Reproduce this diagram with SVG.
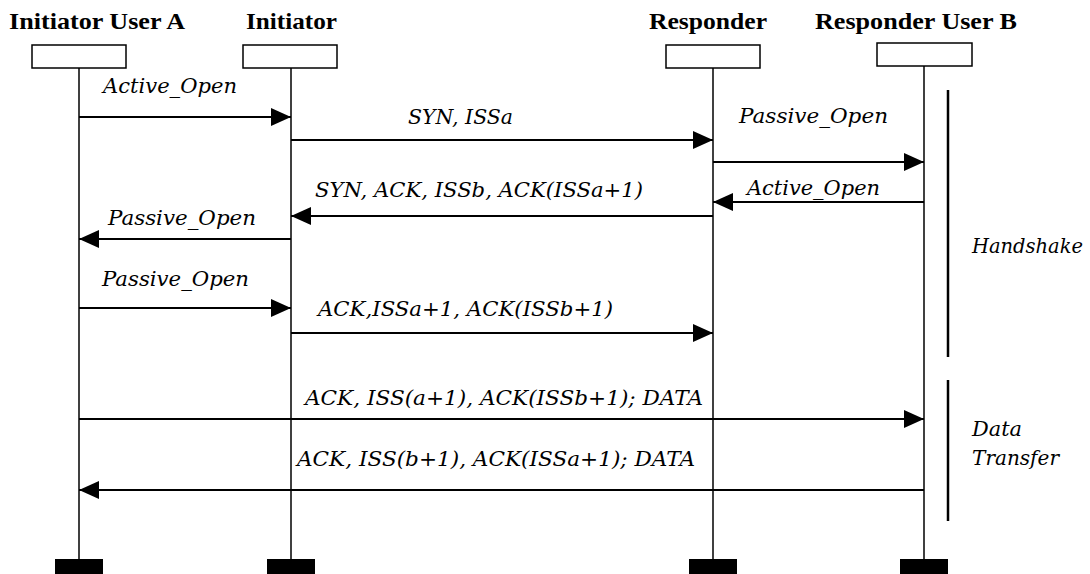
<svg xmlns="http://www.w3.org/2000/svg" width="1090" height="574" viewBox="0 0 1090 574">
  <defs>
    <style>
      .head { font-family: 'Liberation Serif', serif; font-weight: bold; font-size: 24px; fill: #000; }
      .lbl { font-family: 'DejaVu Serif', 'Liberation Serif', serif; font-style: italic; font-size: 21px; fill: #000; }
      .box { fill: #fff; stroke: #000; stroke-width: 1.5; }
      .life { stroke: #000; stroke-width: 1.5; }
      .foot { fill: #000; }
      .msg { stroke: #000; stroke-width: 2; fill: none; marker-end: url(#arrow); }
      .phase { stroke: #000; stroke-width: 2.5; }
    </style>
    <marker id="arrow" markerUnits="userSpaceOnUse" markerWidth="20" markerHeight="18" refX="20" refY="9" orient="auto">
      <path d="M0,0 L20,9 L0,18 z" fill="#000"/>
    </marker>
  </defs>
  <rect width="1090" height="574" fill="#fff"/>

  <!-- participants -->
  <g id="userA">
    <text class="head" x="9" y="29" textLength="176" lengthAdjust="spacingAndGlyphs">Initiator User A</text>
    <rect class="box" x="32" y="45" width="94" height="23"/>
    <line class="life" x1="79" y1="68" x2="79" y2="560"/>
    <rect class="foot" x="55" y="559" width="48" height="15"/>
  </g>
  <g id="initiator">
    <text class="head" x="246" y="29" textLength="91" lengthAdjust="spacingAndGlyphs">Initiator</text>
    <rect class="box" x="243" y="45" width="94" height="23"/>
    <line class="life" x1="291" y1="68" x2="291" y2="560"/>
    <rect class="foot" x="267" y="559" width="48" height="15"/>
  </g>
  <g id="responder">
    <text class="head" x="649" y="29" textLength="118" lengthAdjust="spacingAndGlyphs">Responder</text>
    <rect class="box" x="666" y="45" width="94" height="23"/>
    <line class="life" x1="713" y1="68" x2="713" y2="560"/>
    <rect class="foot" x="689" y="559" width="48" height="15"/>
  </g>
  <g id="userB">
    <text class="head" x="815" y="29" textLength="202" lengthAdjust="spacingAndGlyphs">Responder User B</text>
    <rect class="box" x="877" y="43" width="95" height="23"/>
    <line class="life" x1="924" y1="66" x2="924" y2="560"/>
    <rect class="foot" x="900" y="559" width="48" height="15"/>
  </g>

  <!-- phase brackets -->
  <g id="handshake">
    <line class="phase" x1="948" y1="90" x2="948" y2="357"/>
    <text class="lbl" x="972" y="253" textLength="111" lengthAdjust="spacingAndGlyphs">Handshake</text>
  </g>
  <g id="dataTransfer">
    <line class="phase" x1="948" y1="380" x2="948" y2="521"/>
    <text class="lbl" x="972" y="436" textLength="50" lengthAdjust="spacingAndGlyphs">Data</text>
    <text class="lbl" x="972" y="465" textLength="87" lengthAdjust="spacingAndGlyphs">Transfer</text>
  </g>

  <!-- messages -->
  <g id="connectors">
    <line class="msg" x1="79" y1="117" x2="291" y2="117"/>
    <line class="msg" x1="291" y1="140" x2="713" y2="140"/>
    <line class="msg" x1="713" y1="162" x2="924" y2="162"/>
    <line class="msg" x1="924" y1="202" x2="713" y2="202"/>
    <line class="msg" x1="713" y1="216" x2="291" y2="216"/>
    <line class="msg" x1="291" y1="239" x2="79" y2="239"/>
    <line class="msg" x1="79" y1="308" x2="291" y2="308"/>
    <line class="msg" x1="291" y1="333" x2="713" y2="333"/>
    <line class="msg" x1="79" y1="419" x2="924" y2="419"/>
    <line class="msg" x1="924" y1="490" x2="79" y2="490"/>

    <text class="lbl" x="103" y="93" textLength="134" lengthAdjust="spacingAndGlyphs">Active_Open</text>
    <text class="lbl" x="408" y="124" textLength="105" lengthAdjust="spacingAndGlyphs">SYN, ISSa</text>
    <text class="lbl" x="739" y="123" textLength="149" lengthAdjust="spacingAndGlyphs">Passive_Open</text>
    <text class="lbl" x="747" y="195" textLength="133" lengthAdjust="spacingAndGlyphs">Active_Open</text>
    <text class="lbl" x="315" y="197" textLength="328" lengthAdjust="spacingAndGlyphs">SYN, ACK, ISSb, ACK(ISSa+1)</text>
    <text class="lbl" x="108" y="225" textLength="148" lengthAdjust="spacingAndGlyphs">Passive_Open</text>
    <text class="lbl" x="102" y="286" textLength="147" lengthAdjust="spacingAndGlyphs">Passive_Open</text>
    <text class="lbl" x="318" y="316" textLength="295" lengthAdjust="spacingAndGlyphs">ACK,ISSa+1, ACK(ISSb+1)</text>
    <text class="lbl" x="305" y="405" textLength="398" lengthAdjust="spacingAndGlyphs">ACK, ISS(a+1), ACK(ISSb+1); DATA</text>
    <text class="lbl" x="297" y="466" textLength="398" lengthAdjust="spacingAndGlyphs">ACK, ISS(b+1), ACK(ISSa+1); DATA</text>
  </g>
</svg>
